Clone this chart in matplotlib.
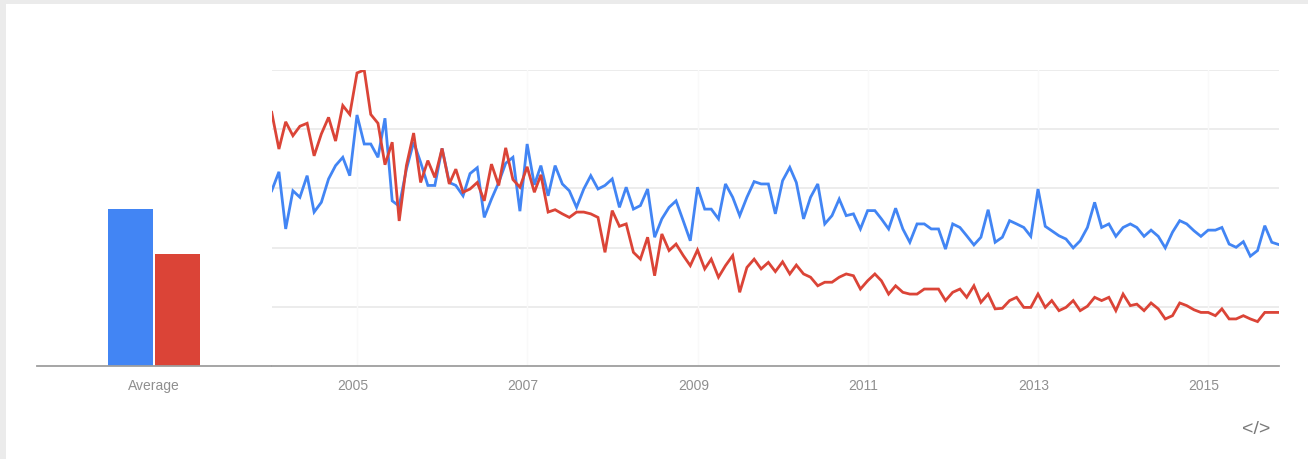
import numpy as np
import pandas as pd
import matplotlib
matplotlib.use("Agg")
import matplotlib.pyplot as plt
import matplotlib.transforms as mtransforms
from matplotlib.patches import Rectangle

plt.rcParams['font.family'] = ['Liberation Sans', 'DejaVu Sans']

# monthly values, Jan 2004 .. Nov 2015
blue_vals = [59.2, 65.6, 46.3, 59.2, 57, 64.3, 52, 55.3, 63.2, 67.7, 70.5, 64.3,
             84.8, 75, 75, 70.5, 83.7, 55.8, 54, 66.5, 75.6, 68.8, 61, 61,
             73.5, 62, 61, 57.5, 65, 67, 50.2, 56.4, 62, 68.5, 70.5, 52.3,
             75, 61.2, 67.7, 57.5, 67.7, 61.5, 59.2, 53.6, 59.8, 64.3, 59.8, 61,
             63.2, 53.6, 60.4, 53, 54.2, 59.8, 43.5, 49.7, 53.6, 55.8, 49, 42.3,
             60.4, 53, 53, 49.7, 61.5, 57, 50.8, 57, 62.3, 61.5, 61.5, 51.4,
             62.6, 67.1, 62, 49.7, 57, 61.5, 48, 50.8, 56.4, 50.8, 51.4, 46.3,
             52.5, 52.5, 49.7, 46.3, 53.3, 46.3, 41.8, 48, 48, 46.3, 46.3, 39.5,
             48, 46.8, 44, 40.9, 43.5, 52.8, 41.8, 43.5, 49.1, 48, 46.8, 43.8,
             59.8, 47.2, 45.7, 44, 42.9, 39.9, 42.3, 46.8, 55.3, 46.8, 48, 43.8,
             46.8, 48, 46.8, 43.8, 45.9, 43.8, 39.9, 45.2, 49.1, 48, 45.7, 43.8,
             45.9, 45.9, 46.8, 41.2, 40.1, 42, 37.1, 39, 47.4, 41.8, 41]
red_vals = [85.7, 73.3, 82.5, 77.8, 81, 82, 71, 78.4, 84, 76, 88, 85,
            99, 100, 85, 82, 68, 75.6, 49, 67.7, 78.7, 62, 69.4, 63.7,
            73.5, 61.5, 66.5, 58.7, 59.8, 62, 55.8, 68.2, 61, 73.7, 63, 60.4,
            67.3, 58.7, 64.6, 52, 52.8, 51.4, 50.2, 52, 52, 51.4, 50.2, 38.4,
            52.5, 47.2, 48, 38.4, 36.1, 43.5, 30.5, 44.6, 39, 41.2, 37.3, 33.9,
            39.2, 32.8, 36.1, 30, 33.9, 37.3, 24.9, 33.3, 36.1, 32.8, 35, 31.9,
            35.2, 31.1, 34.1, 31.1, 30, 27.1, 28.3, 28.3, 30, 31.1, 30.5, 26,
            28.8, 31.1, 28.8, 24.3, 27.1, 24.9, 24.3, 24.3, 26, 26, 26, 22.1,
            24.9, 26, 23.2, 27.1, 21.5, 24.3, 19.3, 19.5, 22.1, 23.2, 19.8, 19.8,
            24.3, 19.8, 22.1, 18.7, 19.8, 22.1, 18.7, 20.2, 23.2, 22.1, 23.2, 18.7,
            24.3, 20.4, 20.9, 18.7, 21.3, 19.3, 15.9, 17, 21.3, 20.4, 19, 18.1,
            18.1, 17, 19.3, 15.9, 15.9, 17, 15.9, 15, 18.1, 18.1, 18.1]
avg_vals = [53, 38]
year_ticks = ['2005', '2007', '2009', '2011', '2013', '2015']

blue = '#4285f4'
red = '#db4437'
W, H = 1308, 460

fig = plt.figure(figsize=(W / 100, H / 100), dpi=100)
fig.patch.set_facecolor('#ebebeb')
fig.patches.append(Rectangle((6 / W, 0), 1 - 6 / W, 1 - 5 / H, transform=fig.transFigure,
                             facecolor='white', edgecolor='none', zorder=-10))

bottom = (H - 367) / H
height = 296 / H

# average bars
axb = fig.add_axes([37 / W, bottom, (271 - 37) / W, height])
axb.bar([-0.51, 0.51], avg_vals, width=0.98, color=[blue, red], edgecolor='none')
axb.set_xlim(-2.543, 2.543)
axb.set_ylim(0, 100)
axb.set_xticks([0])
axb.set_xticklabels(['Average'])
axb.set_yticks([])

# monthly lines
dates = pd.date_range('2004-01-01', periods=len(blue_vals), freq='MS')
ax = fig.add_axes([271.7 / W, bottom, (1279 - 271.7) / W, height])
for g in [20, 40, 60, 80, 100]:
    ax.axhline(g, color='#ebebeb', lw=1.3, zorder=1)
tick_dates = [pd.Timestamp(y + '-01-01') for y in year_ticks]
for t in tick_dates:
    ax.axvline(t, color='#f9f9f9', lw=1, zorder=1)
ax.plot(dates, blue_vals, color=blue, lw=2.0, zorder=3, solid_joinstyle='miter')
ax.plot(dates, red_vals, color=red, lw=2.0, zorder=3, solid_joinstyle='miter')
ax.set_xlim(dates[0], dates[-1])
ax.set_ylim(0, 100)
ax.set_xticks(tick_dates)
ax.set_xticklabels(year_ticks)
ax.set_yticks([])

for a in (ax, axb):
    a.patch.set_visible(False)
    for s in ['top', 'right', 'left']:
        a.spines[s].set_visible(False)
    a.spines['bottom'].set_color('#9e9e9e')
    a.spines['bottom'].set_linewidth(1.3)
    a.tick_params(axis='x', length=0, pad=9, labelsize=10, labelcolor='#8f8f8f')

# year labels sit a few pixels left of the Jan 1 position
shift = mtransforms.ScaledTranslation(-4 / 100, 0, fig.dpi_scale_trans)
for lab in ax.get_xticklabels():
    lab.set_transform(lab.get_transform() + shift)

fig.text(1256 / W, 1 - 430 / H, '</>', ha='center', va='center', fontsize=14,
         color='#7a7a7a')

fig.savefig('out.png', dpi=100, facecolor=fig.get_facecolor())
